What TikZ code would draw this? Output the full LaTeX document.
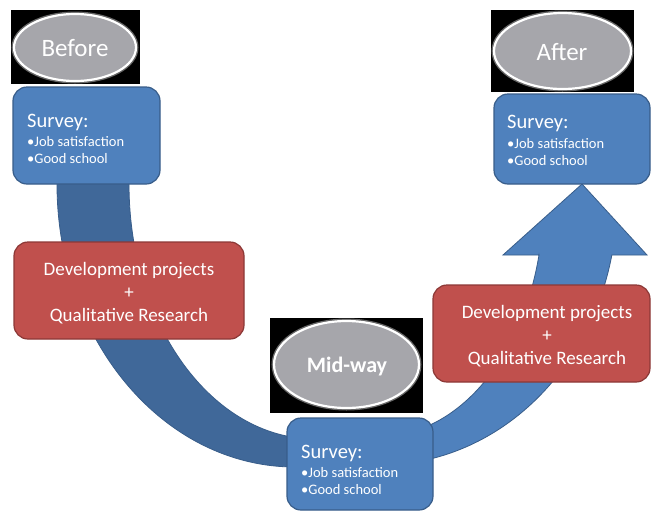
\documentclass[tikz,border=0pt]{standalone}
\usepackage{fontspec}
\setmainfont{Carlito}
\usetikzlibrary{shapes.geometric}
\definecolor{boxblue}{HTML}{4F81BD}
\definecolor{boxline}{HTML}{385D8A}
\definecolor{bandblue}{HTML}{406899}
\definecolor{boxred}{HTML}{C0504D}
\definecolor{redline}{HTML}{8C3836}
\definecolor{ovalgray}{HTML}{A6A6AB}
\begin{document}
\begin{tikzpicture}[x=1pt,y=-1pt,
  surveybox/.style={draw=boxline, fill=boxblue, line width=1.2pt, rounded corners=14pt, inner sep=0pt},
  redbox/.style={draw=redline, fill=boxred, line width=1.2pt, rounded corners=14pt, inner sep=0pt},
  labelbg/.style={fill=black, inner sep=0pt},
  oval/.style={ellipse, fill=ovalgray, draw=white, line width=2.2pt, inner sep=0pt,
    preaction={draw=white!40!black, line width=5pt}},
  title/.style={text=white, font=\fontsize{25}{30}\selectfont, anchor=base, inner sep=0pt},
  head/.style={text=white, font=\fontsize{20.5}{24}\selectfont, anchor=base west, inner sep=0pt},
  bullet/.style={text=white, font=\fontsize{14.5}{17}\selectfont, anchor=base west, inner sep=0pt},
  redtext/.style={text=white, font=\fontsize{19}{23}\selectfont, anchor=base, inner sep=0pt},
  band/.style={draw=boxline, line width=0.8pt}
]
\useasboundingbox[fill=white] (0,0) rectangle (651,512);

% curved bands
\path[band, fill=bandblue] (57,170) -- (57,184)
  arc[start angle=180, end angle=90, x radius=238, y radius=283]
  -- (315,439)
  arc[start angle=90, end angle=180, x radius=186, y radius=255]
  -- (129,170) -- cycle;
\path[band, fill=boxblue] (539,255) -- (503,255) -- (582,184) -- (647,255) -- (611.85,255)
  arc[start angle=11.98, end angle=85, x radius=237, y radius=265]
  -- (394.25,435.4)
  arc[start angle=85, end angle=13.46, x radius=163.5, y radius=236.3]
  -- cycle;

% red boxes
\node[redbox, minimum width=230pt, minimum height=97pt] (r1) at (129,290.5) {};
\node[redbox, minimum width=217pt, minimum height=97pt] (r2) at (541.5,333.5) {};

% survey boxes
\node[surveybox, minimum width=147pt, minimum height=97pt] (s1) at (86.5,135.5) {};
\node[surveybox, minimum width=146pt, minimum height=92pt] (s2) at (360,464) {};
\node[surveybox, minimum width=156pt, minimum height=90pt] (s3) at (572,139) {};

% label backgrounds and ovals
\node[labelbg, minimum width=129pt, minimum height=74pt] (bgBefore) at (75.5,47) {};
\node[labelbg, minimum width=143pt, minimum height=82pt] (bgAfter) at (562.5,51) {};
\node[labelbg, minimum width=153pt, minimum height=95pt] (bgMid) at (346.5,365.5) {};
\node[oval, minimum width=122pt, minimum height=67pt] (oBefore) at (75,47.5) {};
\node[oval, minimum width=137pt, minimum height=76pt] (oAfter) at (562.5,51) {};
\node[oval, minimum width=145pt, minimum height=87pt] (oMid) at (346.5,364.5) {};

\node[title] (tBefore) at (75,56) {Before};
\node[title] (tAfter) at (562,60) {After};
\node[title, font=\fontsize{22}{26}\selectfont\bfseries] (tMid) at (347,372) {Mid-way};

% survey texts
\node[head] (h1) at (27,127) {Survey:};
\node[bullet] (b11) at (27,146) {•Job satisfaction};
\node[bullet] (b12) at (27,163) {•Good school};
\node[head] (h2) at (301,458) {Survey:};
\node[bullet] (b21) at (301,477) {•Job satisfaction};
\node[bullet] (b22) at (301,494) {•Good school};
\node[head] (h3) at (507,128) {Survey:};
\node[bullet] (b31) at (507,148) {•Job satisfaction};
\node[bullet] (b32) at (507,165) {•Good school};

% red box texts
\node[redtext] (d1) at (129,275) {Development projects};
\node[redtext] (p1) at (129,298) {+};
\node[redtext] (q1) at (129,321) {Qualitative Research};
\node[redtext] (d2) at (547,318) {Development projects};
\node[redtext] (p2) at (547,341) {+};
\node[redtext] (q2) at (547,364) {Qualitative Research};
\end{tikzpicture}
\end{document}
